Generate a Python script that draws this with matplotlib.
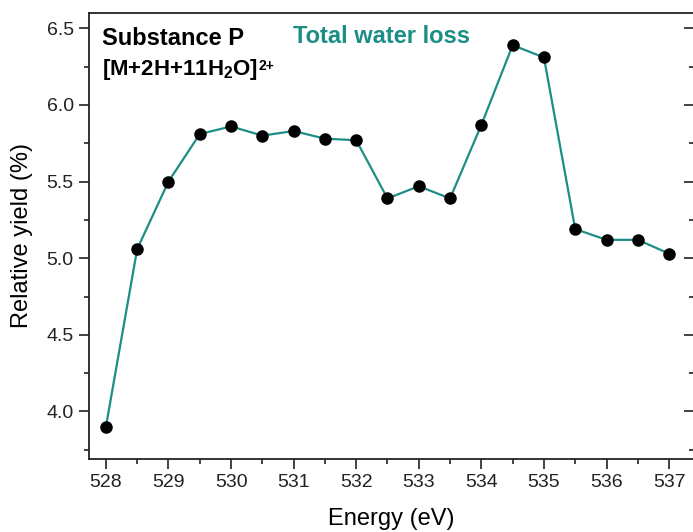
import matplotlib
matplotlib.use("Agg")
import matplotlib.pyplot as plt
from matplotlib.ticker import MultipleLocator

# photon energy (eV) and relative yield of the total water loss channel (%)
energy = [528, 528.5, 529, 529.5, 530, 530.5, 531, 531.5, 532, 532.5,
          533, 533.5, 534, 534.5, 535, 535.5, 536, 536.5, 537]
rel_yield = [3.90, 5.06, 5.50, 5.81, 5.86, 5.80, 5.83, 5.78, 5.77, 5.39,
             5.47, 5.39, 5.87, 6.39, 6.31, 5.19, 5.12, 5.12, 5.03]

x_ticks = [528, 529, 530, 531, 532, 533, 534, 535, 536, 537]
y_ticks = [4.0, 4.5, 5.0, 5.5, 6.0, 6.5]

teal = "#1d8e86"

plt.rcParams['font.family'] = ['Liberation Sans', 'DejaVu Sans']
plt.rcParams['mathtext.fontset'] = 'custom'
plt.rcParams['mathtext.rm'] = 'Liberation Sans'
plt.rcParams['mathtext.bf'] = 'Liberation Sans:bold'

fig = plt.figure(figsize=(6.93, 5.32), dpi=100)
ax = fig.add_axes([89 / 693, 73 / 532, 604.5 / 693, 446 / 532])

ax.plot(energy, rel_yield, color=teal, linewidth=1.6, marker='o',
        markersize=8, markerfacecolor='black', markeredgecolor='black', zorder=3)

ax.set_xlim(527.73, 537.39)
ax.set_ylim(3.69, 6.6)
ax.set_xticks(x_ticks)
ax.set_xticklabels([str(v) for v in x_ticks])
ax.set_yticks(y_ticks)
ax.set_yticklabels([f"{v:.1f}" for v in y_ticks])
ax.xaxis.set_minor_locator(MultipleLocator(0.5))
ax.yaxis.set_minor_locator(MultipleLocator(0.25))

# outward ticks on left/bottom, inward ticks along the right edge
ax.tick_params(axis='both', which='both', direction='out', labelsize=14,
               colors='#222222', width=1.2, pad=4)
ax.tick_params(axis='both', which='major', length=7)
ax.tick_params(axis='both', which='minor', length=3.5)
ax.tick_params(axis='y', which='both', right=True, labelright=False)
for t in ax.yaxis.get_ticklines(minor=False)[1::2] + ax.yaxis.get_ticklines(minor=True)[1::2]:
    t.set_marker(0)  # TICKLEFT on the right side points inward

for side in ['left', 'bottom', 'top', 'right']:
    ax.spines[side].set_linewidth(1.3)
    ax.spines[side].set_color('#222222')

ax.set_xlabel("Energy (eV)", fontsize=17, labelpad=12)
ax.set_ylabel("Relative yield (%)", fontsize=17, labelpad=10)

ax.text(0.0216, 0.928, "Substance P", transform=ax.transAxes, fontsize=17,
        fontweight='bold', va='baseline', ha='left')
ion = ax.text(0.0216, 0.861, r"[M+2H+11H$_\mathbf{2}$O]", transform=ax.transAxes,
              fontsize=16, fontweight='bold', va='baseline', ha='left')
# small charge state tucked against the closing bracket
ax.annotate("2+", xy=(1.0, 1.0), xycoords=ion, xytext=(0, -1.5),
            textcoords='offset points', fontsize=10, fontweight='bold',
            va='top', ha='left')
ax.text(0.338, 0.933, "Total water loss", transform=ax.transAxes, fontsize=17,
        fontweight='bold', color=teal, va='baseline', ha='left')

fig.savefig("out.png", dpi=100)
